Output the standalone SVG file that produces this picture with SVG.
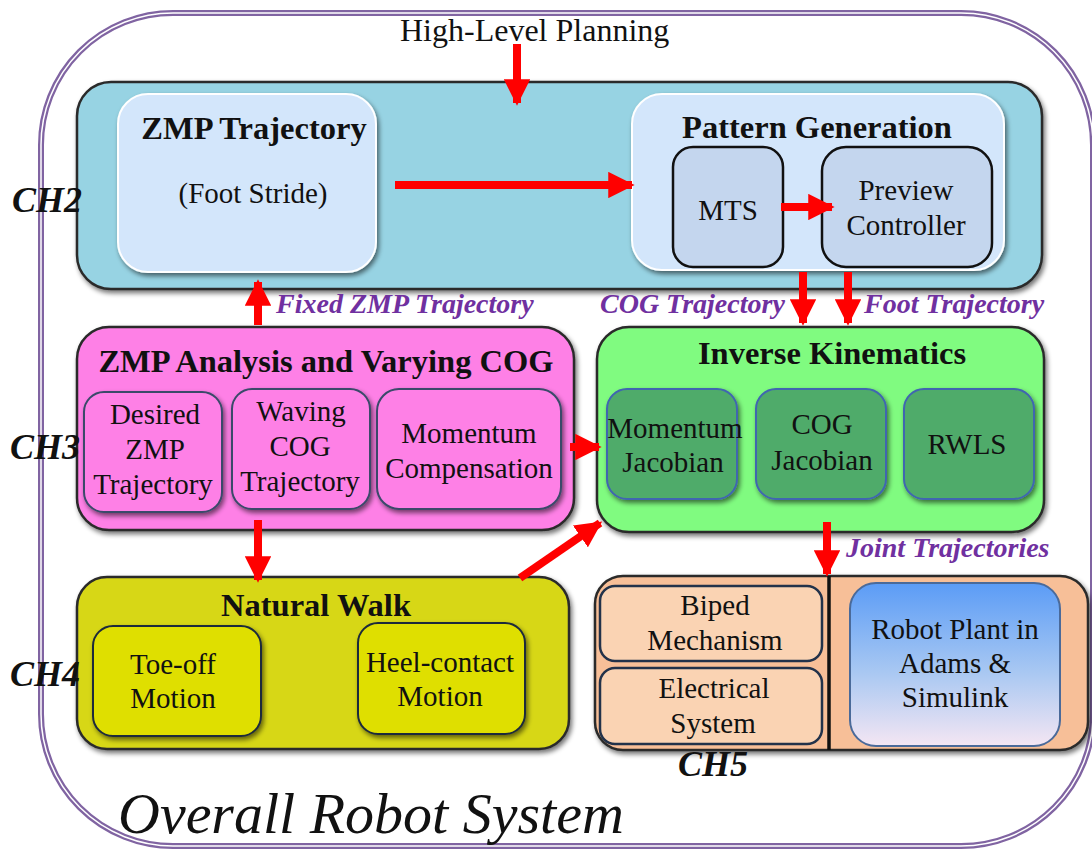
<svg xmlns="http://www.w3.org/2000/svg" width="1092" height="850" viewBox="0 0 1092 850">
  <defs>
    <filter id="shadow" x="-10%" y="-10%" width="120%" height="125%">
      <feGaussianBlur in="SourceAlpha" stdDeviation="2.5"/>
      <feOffset dx="2" dy="3" result="off"/>
      <feComponentTransfer><feFuncA type="linear" slope="0.55"/></feComponentTransfer>
      <feMerge><feMergeNode/><feMergeNode in="SourceGraphic"/></feMerge>
    </filter>
    <linearGradient id="plantGrad" x1="0" y1="0" x2="0" y2="1">
      <stop offset="0" stop-color="#5b9cf6"/>
      <stop offset="0.55" stop-color="#a9c8f2"/>
      <stop offset="1" stop-color="#f4e6f3"/>
    </linearGradient>
    <marker id="arrow" viewBox="0 0 10 10" refX="9" refY="5" markerWidth="3.3" markerHeight="3.3" orient="auto" markerUnits="strokeWidth">
      <path d="M0,0 L10,5 L0,10 z" fill="#ff0000"/>
    </marker>
    <style>
      .serif { font-family: "Liberation Serif", "Times New Roman", serif; fill: #111; }
      .title { font-weight: bold; font-size: 32.5px; text-anchor: middle; }
      .body { font-size: 29px; text-anchor: middle; }
      .ch { font-weight: bold; font-style: italic; font-size: 36px; }
      .flow { font-family: "Liberation Serif", serif; font-weight: bold; font-style: italic; font-size: 28px; fill: #7030a0; }
      .main { stroke: #2a2a2a; stroke-width: 2.5; filter: url(#shadow); }
      .sub { stroke-width: 2; filter: url(#shadow); }
      .conn { stroke: #ff0000; stroke-width: 8; fill: none; marker-end: url(#arrow); }
    </style>
  </defs>

  <rect width="1092" height="850" fill="#ffffff"/>

  <!-- outer system boundary: double purple line -->
  <g id="system">
    <rect x="41" y="13" width="1052" height="833" rx="132" ry="132" fill="none" stroke="#8064a2" stroke-width="6"/>
    <rect x="41" y="13" width="1052" height="833" rx="132" ry="132" fill="none" stroke="#ffffff" stroke-width="1.5"/>
    <text class="serif" x="118" y="833" font-size="58" font-style="italic">Overall Robot System</text>
  </g>

  <!-- CH2: planning block -->
  <g id="ch2">
    <rect class="main" x="77" y="82" width="965" height="207" rx="34" fill="#97d3e3"/>
    <text class="serif ch" x="12" y="212">CH2</text>
  </g>
  <g id="zmp-trajectory">
    <rect class="sub" x="118" y="94" width="258" height="178" rx="30" fill="#d3e6fb" stroke="#ffffff"/>
    <text class="serif title" x="254" y="139">ZMP Trajectory</text>
    <text class="serif body" x="253" y="203">(Foot Stride)</text>
  </g>
  <g id="pattern-generation">
    <rect class="sub" x="632" y="94" width="372" height="176" rx="30" fill="#d3e6fb" stroke="#ffffff"/>
    <text class="serif title" x="817" y="138">Pattern Generation</text>
  </g>
  <g id="mts">
    <rect x="673" y="147" width="110" height="120" rx="20" fill="#c4d6ee" stroke="#111" stroke-width="2.5"/>
    <text class="serif body" x="728" y="220">MTS</text>
  </g>
  <g id="preview-controller">
    <rect x="822" y="147" width="170" height="120" rx="24" fill="#c4d6ee" stroke="#111" stroke-width="2.5"/>
    <text class="serif body" x="906" y="200">Preview</text>
    <text class="serif body" x="906" y="235">Controller</text>
  </g>

  <!-- CH3: ZMP analysis -->
  <g id="ch3">
    <rect class="main" x="77" y="327" width="497" height="203" rx="32" fill="#fe80e6"/>
    <text class="serif ch" x="10" y="459">CH3</text>
    <text class="serif title" x="326" y="372">ZMP Analysis and Varying COG</text>
  </g>
  <g id="desired-zmp">
    <rect class="sub" x="84" y="392" width="138" height="120" rx="20" fill="#fe80e6" stroke="#3a4a6a"/>
    <text class="serif body" x="155" y="424">Desired</text>
    <text class="serif body" x="155" y="459">ZMP</text>
    <text class="serif body" x="153" y="494">Trajectory</text>
  </g>
  <g id="waving-cog">
    <rect class="sub" x="232" y="389" width="138" height="120" rx="20" fill="#fe80e6" stroke="#3a4a6a"/>
    <text class="serif body" x="301" y="421">Waving</text>
    <text class="serif body" x="300" y="456">COG</text>
    <text class="serif body" x="300" y="491">Trajectory</text>
  </g>
  <g id="momentum-compensation">
    <rect class="sub" x="377" y="389" width="184" height="120" rx="22" fill="#fe80e6" stroke="#3a4a6a"/>
    <text class="serif body" x="469" y="443">Momentum</text>
    <text class="serif body" x="469" y="478">Compensation</text>
  </g>

  <!-- Inverse kinematics -->
  <g id="inverse-kinematics">
    <rect class="main" x="597" y="327" width="447" height="205" rx="32" fill="#80fb80"/>
    <text class="serif title" x="832" y="364">Inverse Kinematics</text>
  </g>
  <g id="momentum-jacobian">
    <rect class="sub" x="607" y="389" width="130" height="110" rx="20" fill="#4fab6b" stroke="#3f66b0"/>
    <text class="serif body" x="675" y="438">Momentum</text>
    <text class="serif body" x="673" y="472">Jacobian</text>
  </g>
  <g id="cog-jacobian">
    <rect class="sub" x="756" y="389" width="130" height="110" rx="20" fill="#4fab6b" stroke="#3f66b0"/>
    <text class="serif body" x="822" y="434">COG</text>
    <text class="serif body" x="822" y="470">Jacobian</text>
  </g>
  <g id="rwls">
    <rect class="sub" x="904" y="389" width="130" height="110" rx="20" fill="#4fab6b" stroke="#3f66b0"/>
    <text class="serif body" x="967" y="454">RWLS</text>
  </g>

  <!-- CH4: natural walk -->
  <g id="ch4">
    <rect class="main" x="77" y="577" width="492" height="172" rx="30" fill="#d7d717"/>
    <text class="serif ch" x="10" y="686">CH4</text>
    <text class="serif title" x="316" y="616">Natural Walk</text>
  </g>
  <g id="toe-off">
    <rect class="sub" x="93" y="626" width="168" height="110" rx="20" fill="#dfdf00" stroke="#1e2a3a"/>
    <text class="serif body" x="173" y="674">Toe-off</text>
    <text class="serif body" x="173" y="708">Motion</text>
  </g>
  <g id="heel-contact">
    <rect class="sub" x="358" y="623" width="167" height="111" rx="20" fill="#dfdf00" stroke="#1e2a3a"/>
    <text class="serif body" x="440" y="672">Heel-contact</text>
    <text class="serif body" x="440" y="706">Motion</text>
  </g>

  <!-- CH5: plant -->
  <g id="ch5">
    <rect class="main" x="595" y="576" width="493" height="174" rx="28" fill="#f7bf98"/>
    <line x1="829" y1="576" x2="829" y2="750" stroke="#111" stroke-width="3.5"/>
    <text class="serif ch" x="678" y="776">CH5</text>
  </g>
  <g id="biped-mechanism">
    <rect x="600" y="586" width="222" height="75" rx="15" fill="#fad3b3" stroke="#22324a" stroke-width="2.5"/>
    <text class="serif body" x="715" y="615">Biped</text>
    <text class="serif body" x="715" y="650">Mechanism</text>
  </g>
  <g id="electrical-system">
    <rect x="600" y="668" width="222" height="76" rx="15" fill="#fad3b3" stroke="#22324a" stroke-width="2.5"/>
    <text class="serif body" x="714" y="698">Electrical</text>
    <text class="serif body" x="713" y="733">System</text>
  </g>
  <g id="robot-plant">
    <rect x="850" y="583" width="210" height="163" rx="26" fill="url(#plantGrad)" stroke="#4a6a9a" stroke-width="2"/>
    <text class="serif body" x="955" y="639">Robot Plant in</text>
    <text class="serif body" x="955" y="673">Adams &amp;</text>
    <text class="serif body" x="955" y="707">Simulink</text>
  </g>

  <!-- connectors -->
  <g id="connectors">
    <path class="conn" d="M517,44 V103"/>
    <path class="conn" d="M395,185 H632"/>
    <path class="conn" d="M781,207 H832"/>
    <path class="conn" d="M258,325 V282"/>
    <path class="conn" d="M803,272 V323"/>
    <path class="conn" d="M848,272 V323"/>
    <path class="conn" d="M570,447 H599"/>
    <path class="conn" d="M258,520 V580"/>
    <path class="conn" d="M520,578 L600,523"/>
    <path class="conn" d="M827,522 V574"/>
  </g>

  <!-- connector labels -->
  <g id="labels">
    <text class="serif" x="400" y="41" font-size="32">High-Level Planning</text>
    <text class="flow" x="276" y="313">Fixed ZMP Trajectory</text>
    <text class="flow" x="600" y="313">COG Trajectory</text>
    <text class="flow" x="864" y="313">Foot Trajectory</text>
    <text class="flow" x="846" y="557">Joint Trajectories</text>
  </g>
</svg>
